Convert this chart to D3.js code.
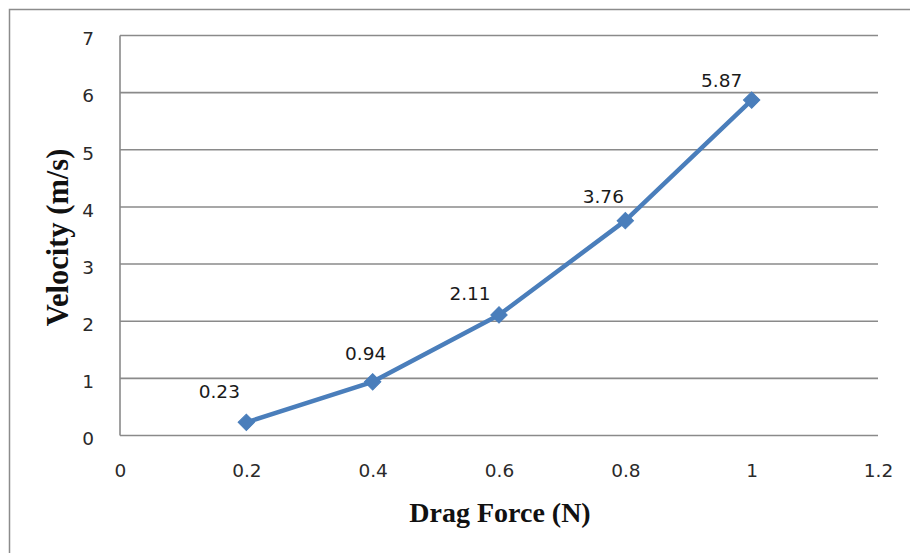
<!DOCTYPE html>
<html>
<head>
<meta charset="utf-8">
<script src="https://cdn.jsdelivr.net/npm/d3@7"></script>
<style>
  html, body { margin: 0; padding: 0; background: #fff; }
  svg { display: block; }
</style>
</head>
<body>
<script>
// ---- data ----
const dragForce = [0.2, 0.4, 0.6, 0.8, 1.0];
const velocity = [0.23, 0.94, 2.11, 3.76, 5.87];
const valueLabels = ["0.23", "0.94", "2.11", "3.76", "5.87"];
const xTicks = [0, 0.2, 0.4, 0.6, 0.8, 1, 1.2];
const yTicks = [0, 1, 2, 3, 4, 5, 6, 7];
const xTitle = "Drag Force (N)";
const yTitle = "Velocity (m/s)";

// ---- layout / style ----
const W = 910, H = 553;
const plot = { left: 120, right: 878, top: 35.5, bottom: 435.5 };
const labelOffsets = [[-27, -24], [-7, -22], [-29, -15], [-22, -18], [-30, -13]];
const lineColor = "#4A7EBB";
const gridColor = "#8a8a8a";

const svg = d3.select("body").append("svg").attr("width", W).attr("height", H);

// outer chart border (only left/top visible)
svg.append("path")
  .attr("d", `M9.5,${H + 5} L9.5,9.5 L${W + 5},9.5`)
  .attr("fill", "none").attr("stroke", "#8c8c8c").attr("stroke-width", 1.5);

const x = d3.scaleLinear().domain([0, 1.2]).range([plot.left, plot.right]);
const y = d3.scaleLinear().domain([0, 7]).range([plot.bottom, plot.top]);

// horizontal gridlines
svg.append("g").attr("class", "grid")
  .selectAll("line").data(yTicks).join("line")
  .attr("x1", plot.left).attr("x2", plot.right)
  .attr("y1", d => y(d)).attr("y2", d => y(d))
  .attr("stroke", gridColor).attr("stroke-width", 1.6);

// left axis line
svg.append("line")
  .attr("x1", plot.left).attr("x2", plot.left)
  .attr("y1", plot.top).attr("y2", plot.bottom)
  .attr("stroke", gridColor).attr("stroke-width", 1.6);

// y axis (labels only)
const yAxis = d3.axisLeft(y).tickValues(yTicks).tickSize(0).tickPadding(26).tickFormat(d3.format("d"));
const gy = svg.append("g").attr("transform", `translate(${plot.left},0)`).call(yAxis);
gy.select(".domain").remove();
gy.selectAll("text")
  .attr("font-family", "DejaVu Sans").attr("font-size", 18.5).attr("fill", "#2a2a2a")
  .attr("dy", "0.5em");

// x axis (labels only)
const xAxis = d3.axisBottom(x).tickValues(xTicks).tickSize(0).tickPadding(41).tickFormat(d => String(d));
const gx = svg.append("g").attr("transform", `translate(0,${plot.bottom})`).call(xAxis);
gx.select(".domain").remove();
gx.selectAll("text")
  .attr("font-family", "DejaVu Sans").attr("font-size", 18.5).attr("fill", "#2a2a2a")
  .attr("dy", "0");

// line
const pts = dragForce.map((d, i) => [d, velocity[i]]);
svg.append("path")
  .datum(pts)
  .attr("d", d3.line().x(d => x(d[0])).y(d => y(d[1])))
  .attr("fill", "none").attr("stroke", lineColor)
  .attr("stroke-width", 4.5).attr("stroke-linejoin", "round");

// diamond markers
svg.append("g").selectAll("path").data(pts).join("path")
  .attr("transform", d => `translate(${x(d[0])},${y(d[1])}) rotate(45)`)
  .attr("d", "M-5.8,-5.8 L5.8,-5.8 L5.8,5.8 L-5.8,5.8 Z")
  .attr("fill", lineColor).attr("stroke", lineColor).attr("stroke-width", 1);

// data labels
svg.append("g").selectAll("text").data(pts).join("text")
  .attr("x", (d, i) => x(d[0]) + labelOffsets[i][0])
  .attr("y", (d, i) => y(d[1]) + labelOffsets[i][1])
  .attr("text-anchor", "middle")
  .attr("font-family", "DejaVu Sans").attr("font-size", 18.5).attr("fill", "#1a1a1a")
  .text((d, i) => valueLabels[i]);

// axis titles
svg.append("text")
  .attr("x", 500).attr("y", 521.5)
  .attr("text-anchor", "middle")
  .attr("font-family", "Liberation Serif").attr("font-weight", "bold")
  .attr("font-size", 28).attr("fill", "#111")
  .text(xTitle);

svg.append("text")
  .attr("transform", `translate(68,237.5) rotate(-90)`)
  .attr("text-anchor", "middle")
  .attr("font-family", "Liberation Serif").attr("font-weight", "bold")
  .attr("font-size", 30.5).attr("fill", "#111")
  .text(yTitle);
</script>
</body>
</html>
